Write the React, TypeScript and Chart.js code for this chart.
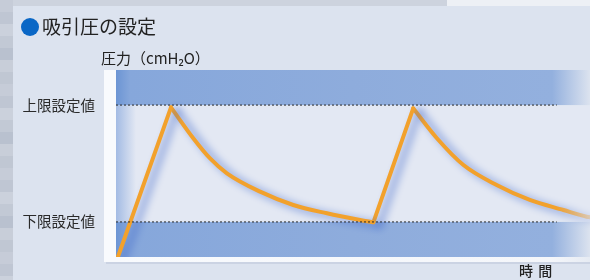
import React, { useEffect, useRef } from "react";
import { Chart, registerables } from "chart.js";

Chart.register(...registerables);

// ---- text ----
const TITLE = "吸引圧の設定";
const Y_TITLE = "圧力（cmH₂O）";
const X_TITLE = "時 間";
const LIMIT_LABELS = ["下限設定値", "上限設定値"];

// ---- scales / values ----
const LIMIT_VALUES = [3, 13];
const Y_MIN = 0;
const Y_MAX = 16;
const X_MIN = 0;
const X_MAX = 100;
const LIMIT_LINE_X = [0, 93];
const BANDS: [number, number][] = [
  [13, 16],
  [0, 3],
];

// ---- pressure curve (time, pressure) ----
const rise1X = [0.4, 11.6];
const rise1Y = [0, 12.8];
const decay1X = [11.6, 16.3, 19.8, 23.4, 30.4, 37.4, 44.5, 51.5, 54.3];
const decay1Y = [12.8, 10.16, 8.45, 7.16, 5.59, 4.45, 3.74, 3.17, 2.97];
const rise2X = [54.3, 62.7];
const rise2Y = [2.97, 12.72];
const decay2X = [62.7, 67.7, 73.3, 80.3, 87.3, 94.4, 99.3, 100];
const decay2Y = [12.72, 10.16, 7.87, 6.16, 4.88, 4.02, 3.45, 3.4];

const FONT = '"Noto Sans CJK JP", "Noto Sans", sans-serif';
const BG = "#dce3ef";
const ORANGE = "#f2a12c";
const BAND = "#8eacdc";

const toPts = (xs: number[], ys: number[]) => xs.map((x, i) => ({ x, y: ys[i] }));

const orangeFade = (ctx: any) => {
  const chart = ctx.chart;
  const a = chart.chartArea;
  if (!a) return ORANGE;
  const g = chart.ctx.createLinearGradient(a.left, 0, a.right, 0);
  g.addColorStop(0, ORANGE);
  g.addColorStop(0.93, ORANGE);
  g.addColorStop(1, "rgba(242,161,44,0.3)");
  return g;
};

const backgroundPlugin = {
  id: "panelBg",
  beforeDraw(chart: any) {
    const { ctx, width, height } = chart;
    ctx.save();
    ctx.fillStyle = BG;
    ctx.fillRect(0, 0, width, height);
    const shades = ["#c6ccd8", "#bfc6d3", "#cbd1dc", "#c2c9d5", "#b9c1cf", "#c8ced9", "#c0c7d3"];
    for (let i = 0; i * 12 < height; i++) {
      ctx.fillStyle = shades[i % shades.length];
      ctx.fillRect(0, i * 12, 13, 12);
    }
    ctx.fillStyle = "#cdd3de";
    ctx.fillRect(13, 0, 434, 6);
    ctx.fillStyle = "#edf0f5";
    ctx.fillRect(447, 0, width - 447, 6);
    ctx.restore();
  },
};

const bandsPlugin = {
  id: "bands",
  beforeDatasetsDraw(chart: any) {
    const { ctx, chartArea: a, scales } = chart;
    const y = scales.y;
    ctx.save();
    const yHi = y.getPixelForValue(LIMIT_VALUES[1]);
    const yLo = y.getPixelForValue(LIMIT_VALUES[0]);
    ctx.fillStyle = "#e3e8f3";
    ctx.fillRect(a.left, yHi, a.right - a.left, yLo - yHi);
    const sh = ctx.createLinearGradient(a.left, 0, a.left + 20, 0);
    sh.addColorStop(0, "rgba(110,150,215,0.55)");
    sh.addColorStop(1, "rgba(110,150,215,0)");
    ctx.fillStyle = sh;
    ctx.fillRect(a.left, yHi, 20, yLo - yHi);
    for (const [lo, hi] of BANDS) {
      const t = y.getPixelForValue(hi);
      const b = y.getPixelForValue(lo);
      const g = ctx.createLinearGradient(a.left, 0, a.right, 0);
      g.addColorStop(0, "#6c95d4");
      g.addColorStop(0.03, "#86a7db");
      g.addColorStop(0.5, BAND);
      g.addColorStop(0.92, "#93b0de");
      g.addColorStop(1, BG);
      ctx.fillStyle = g;
      ctx.fillRect(a.left, t, a.right - a.left, b - t);
    }
    ctx.fillStyle = "#f8fafd";
    ctx.fillRect(a.left - 12, a.top, 12, a.bottom - a.top + 5);
    const wg = ctx.createLinearGradient(a.left, 0, a.right, 0);
    wg.addColorStop(0, "#f8fafd");
    wg.addColorStop(0.92, "#f4f6fa");
    wg.addColorStop(1, "#e6ebf3");
    ctx.fillStyle = wg;
    ctx.fillRect(a.left - 12, a.bottom, a.right - a.left + 12, 5);
    ctx.fillStyle = "rgba(150,165,190,0.25)";
    ctx.fillRect(a.left - 10, a.bottom + 5, a.right - a.left + 10, 2);
    ctx.restore();
  },
};

const shadowPlugin = {
  id: "curveShadow",
  beforeDatasetDraw(chart: any, args: any) {
    if (chart.data.datasets[args.index]._curve) {
      const ctx = chart.ctx;
      ctx.save();
      ctx.shadowColor = "rgba(60,100,200,0.75)";
      ctx.shadowBlur = 9;
      ctx.shadowOffsetX = 6;
      ctx.shadowOffsetY = 3;
    }
  },
  afterDatasetDraw(chart: any, args: any) {
    if (chart.data.datasets[args.index]._curve) chart.ctx.restore();
  },
};

const textPlugin = {
  id: "texts",
  afterDraw(chart: any) {
    const { ctx } = chart;
    ctx.save();
    ctx.fillStyle = "#0a67c6";
    ctx.beginPath();
    ctx.arc(30, 27, 9, 0, Math.PI * 2);
    ctx.fill();
    ctx.fillStyle = "#222";
    ctx.font = `19px ${FONT}`;
    ctx.textBaseline = "middle";
    ctx.textAlign = "left";
    ctx.fillText(TITLE, 42, 27);
    ctx.font = `15px ${FONT}`;
    ctx.fillText(Y_TITLE, 101, 58);
    ctx.font = `500 14px ${FONT}`;
    (ctx as any).letterSpacing = "1px";
    ctx.fillText(X_TITLE, 519, 271);
    ctx.restore();
  },
};

export default function App() {
  const ref = useRef<HTMLCanvasElement | null>(null);

  useEffect(() => {
    if (!ref.current) return;
    const curve = (xs: number[], ys: number[], smooth: boolean) => ({
      _curve: true,
      data: toPts(xs, ys),
      borderColor: orangeFade,
      borderWidth: 4,
      borderCapStyle: "round",
      borderJoinStyle: "round",
      pointRadius: 0,
      tension: 0,
      cubicInterpolationMode: smooth ? "monotone" : "default",
      fill: false,
    });
    const limitLine = (v: number) => ({
      data: LIMIT_LINE_X.map((x) => ({ x, y: v })),
      borderColor: "#2a2a2a",
      borderWidth: 1,
      borderDash: [2, 2],
      pointRadius: 0,
      fill: false,
    });
    const chart = new Chart(ref.current, {
      type: "line",
      data: {
        datasets: [
          limitLine(LIMIT_VALUES[1]),
          limitLine(LIMIT_VALUES[0]),
          curve(rise1X, rise1Y, false),
          curve(decay1X, decay1Y, true),
          curve(rise2X, rise2Y, false),
          curve(decay2X, decay2Y, true),
        ] as any,
      },
      options: {
        responsive: false,
        animation: false,
        layout: { padding: { top: 70, bottom: 23, left: 0, right: 0 } },
        plugins: {
          legend: { display: false },
          tooltip: { enabled: false },
        },
        scales: {
          x: { type: "linear", min: X_MIN, max: X_MAX, display: false },
          y: {
            type: "linear",
            min: Y_MIN,
            max: Y_MAX,
            afterFit: (s: any) => {
              s.width = 116;
              s.paddingTop = 0;
              s.paddingBottom = 0;
            },
            afterBuildTicks: (s: any) => {
              s.ticks = LIMIT_VALUES.map((v) => ({ value: v }));
            },
            ticks: {
              padding: 21,
              color: "#2a2a2a",
              font: { size: 14.5, family: FONT },
              callback: (v: any) => {
                const i = LIMIT_VALUES.indexOf(Number(v));
                return i >= 0 ? LIMIT_LABELS[i] : "";
              },
            },
            grid: { display: false, drawTicks: false },
            border: { display: false },
          },
        },
      } as any,
      plugins: [backgroundPlugin, bandsPlugin, shadowPlugin, textPlugin],
    });
    return () => chart.destroy();
  }, []);

  return (
    <div style={{ position: "fixed", left: 0, top: 0, width: 590, height: 280 }}>
      <canvas ref={ref} width={590} height={280} style={{ display: "block", width: 590, height: 280 }} />
    </div>
  );
}
